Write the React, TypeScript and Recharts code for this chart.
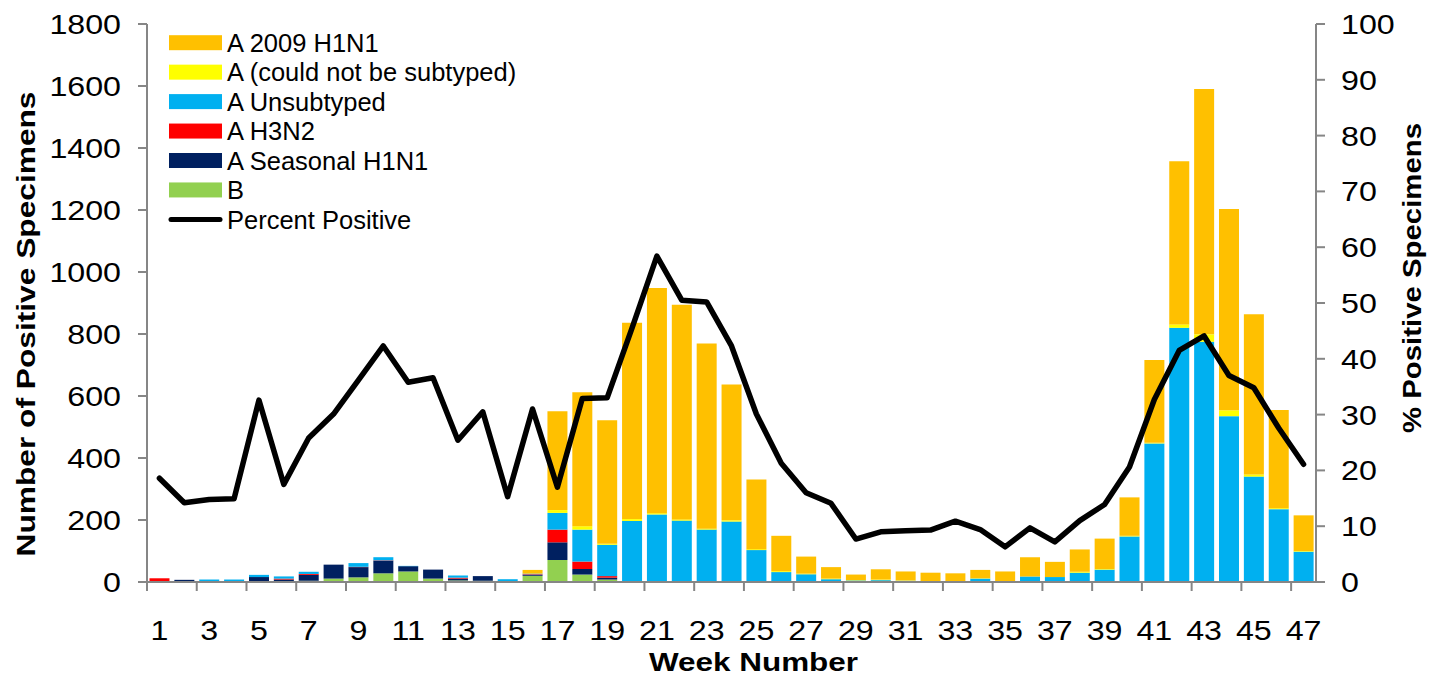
import React from 'react';
import { ComposedChart, Bar, Line, XAxis, YAxis } from 'recharts';

const WEEKS = [1,2,3,4,5,6,7,8,9,10,11,12,13,14,15,16,17,18,19,20,21,22,23,24,25,26,27,28,29,30,31,32,33,34,35,36,37,38,39,40,41,42,43,44,45,46,47];
const X_LABELS = [1,3,5,7,9,11,13,15,17,19,21,23,25,27,29,31,33,35,37,39,41,43,45,47];
const LEFT_TICKS = [0,200,400,600,800,1000,1200,1400,1600,1800];
const RIGHT_TICKS = [0,10,20,30,40,50,60,70,80,90,100];

const B_VALS = [0,0,0,0,0,0,4,11,15,28,34,11,5,4,0,20,71,24,8,0,0,0,0,0,0,0,0,0,0,0,0,0,2,0,0,0,0,0,0,0,0,0,0,0,0,0,0];
const SEASONAL = [0,7,0,2,16,8,19,45,33,41,17,29,6,15,1,3,57,18,6,0,0,0,0,0,0,0,0,0,0,0,0,0,0,0,0,0,0,0,0,0,0,0,0,0,0,0,0];
const H3N2 = [12,0,0,0,0,3,3,0,1,1,0,0,3,0,0,2,41,24,5,3,2,0,0,3,0,0,0,0,0,0,0,0,0,0,0,0,0,0,0,0,0,0,0,0,0,0,0];
const UNSUBTYPED = [0,0,8,6,7,7,7,0,12,10,1,0,7,0,8,2,54,103,101,194,216,198,169,192,103,32,25,9,5,6,4,1,0,11,0,18,16,30,40,147,447,820,775,535,340,235,98];
const NOT_SUBTYPED = [0,0,0,0,0,0,0,0,0,0,0,0,0,0,0,0,9,11,3,6,4,4,3,4,3,3,2,2,1,2,1,2,1,1,1,0,0,3,2,2,2,11,24,19,7,3,2];
const H1N1_2009 = [0,0,0,0,0,0,0,0,0,0,0,0,0,0,0,12,319,432,399,633,726,692,597,438,225,114,55,37,18,33,29,27,25,27,33,62,49,72,98,124,267,526,791,649,517,317,115];
const PCT_POS = [18.6,14.2,14.8,14.9,32.6,17.5,25.8,30.1,36.2,42.3,35.8,36.6,25.4,30.5,15.3,31.0,17.0,32.9,33.0,45.5,58.4,50.5,50.2,42.3,30.1,21.3,16.0,14.1,7.7,9.0,9.2,9.3,10.9,9.4,6.3,9.7,7.2,11.0,13.9,20.6,32.7,41.5,44.1,37.0,34.8,27.6,21.1];

const SERIES = [
  { key: 'b', name: 'B', color: '#92D050', values: B_VALS },
  { key: 'seasonal', name: 'A Seasonal H1N1', color: '#002060', values: SEASONAL },
  { key: 'h3n2', name: 'A H3N2', color: '#FF0000', values: H3N2 },
  { key: 'unsub', name: 'A Unsubtyped', color: '#00B0F0', values: UNSUBTYPED },
  { key: 'notsub', name: 'A (could not be subtyped)', color: '#FFFF00', values: NOT_SUBTYPED },
  { key: 'h1n1', name: 'A 2009 H1N1', color: '#FFC000', values: H1N1_2009 },
];

const data = WEEKS.map((w, i) => {
  const row: any = { week: w, pct: PCT_POS[i] };
  SERIES.forEach(s => { row[s.key] = s.values[i]; });
  return row;
});

const W = 1434;
const H = 681;
const LEFT_W = 147;
const RIGHT_W = 118;
const TOP = 24;
const XAXIS_H = 99;
const PLOT_LEFT = LEFT_W;
const PLOT_RIGHT = W - RIGHT_W;
const PLOT_BOTTOM = H - XAXIS_H;
const CAT_W = (PLOT_RIGHT - PLOT_LEFT) / WEEKS.length;
const AXIS_COLOR = '#868686';
const FONT = '"Liberation Sans", Arial, sans-serif';
const TICK_FS = 28;
const STRETCH = 1.15;

const XTick = (props: any) => {
  const { x, payload } = props;
  const v = payload.value;
  if (!X_LABELS.includes(v)) return <g />;
  const lx = x - CAT_W / 2;
  return (
    <g>
      <line x1={lx} x2={lx} y1={PLOT_BOTTOM} y2={PLOT_BOTTOM + 9} stroke={AXIS_COLOR} strokeWidth={2} />
      <text transform={`translate(${x},640) scale(${STRETCH},1)`} textAnchor="middle" fontSize={TICK_FS} fontFamily={FONT} fill="#000">{v}</text>
    </g>
  );
};

const LeftTick = (props: any) => {
  const { x, y, payload } = props;
  return (
    <text transform={`translate(${x},${y}) scale(${STRETCH},1)`} textAnchor="end" dy={10} fontSize={TICK_FS} fontFamily={FONT} fill="#000">{payload.value}</text>
  );
};

const RightTick = (props: any) => {
  const { x, y, payload } = props;
  return (
    <text transform={`translate(${x},${y}) scale(${STRETCH},1)`} textAnchor="start" dy={10} fontSize={TICK_FS} fontFamily={FONT} fill="#000">{payload.value}</text>
  );
};

const LEGEND_ITEMS = [...SERIES].reverse();

export default function App() {
  return (
    <div style={{ position: 'absolute', left: 0, top: 0, width: W, height: H, background: '#fff' }}>
      <ComposedChart width={W} height={H} data={data} margin={{ top: TOP, right: 0, bottom: 0, left: 0 }} barCategoryGap="10%">
        <XAxis dataKey="week" type="category" interval={0} height={XAXIS_H} tickLine={false}
          axisLine={{ stroke: AXIS_COLOR, strokeWidth: 2 }} tick={<XTick />} />
        <YAxis yAxisId="left" orientation="left" width={LEFT_W} domain={[0, 1800]} ticks={LEFT_TICKS}
          interval={0} tickSize={9} tickMargin={17} axisLine={{ stroke: AXIS_COLOR, strokeWidth: 2 }}
          tickLine={{ stroke: AXIS_COLOR, strokeWidth: 2 }} tick={<LeftTick />} />
        <YAxis yAxisId="right" orientation="right" width={RIGHT_W} domain={[0, 100]} ticks={RIGHT_TICKS}
          interval={0} tickSize={9} tickMargin={16} axisLine={{ stroke: AXIS_COLOR, strokeWidth: 2 }}
          tickLine={{ stroke: AXIS_COLOR, strokeWidth: 2 }} tick={<RightTick />} />
        {SERIES.map(s => (
          <Bar key={s.key} dataKey={s.key} name={s.name} stackId="a" yAxisId="left" fill={s.color} isAnimationActive={false} />
        ))}
        <Line dataKey="pct" name="Percent Positive" yAxisId="right" type="linear" stroke="#000" strokeWidth={5.5}
          strokeLinejoin="round" strokeLinecap="round" dot={false} activeDot={false} isAnimationActive={false} />
      </ComposedChart>
      <svg width={W} height={H} style={{ position: 'absolute', left: 0, top: 0, pointerEvents: 'none' }} fontFamily={FONT}>
        <text transform="translate(35,324) rotate(-90)" textAnchor="middle" fontWeight="bold" fontSize={25.5}
          textLength={465} lengthAdjust="spacingAndGlyphs" fill="#000">Number of Positive Specimens</text>
        <text transform="translate(1420.5,278) rotate(-90)" textAnchor="middle" fontWeight="bold" fontSize={25.5}
          textLength={310} lengthAdjust="spacingAndGlyphs" fill="#000">% Positive Specimens</text>
        <text x={753.5} y={671} textAnchor="middle" fontWeight="bold" fontSize={25.5}
          textLength={209} lengthAdjust="spacingAndGlyphs" fill="#000">Week Number</text>
        {LEGEND_ITEMS.map((s, i) => {
          const cy = 42.7 + i * 29.45;
          return (
            <g key={s.key}>
              <rect x={169} y={cy - 7.5} width={53} height={15} fill={s.color} />
              <text x={227} y={cy + 9.1} fontSize={25.5} fill="#000">{s.name}</text>
            </g>
          );
        })}
        <line x1={171} x2={220} y1={42.7 + 6 * 29.45} y2={42.7 + 6 * 29.45} stroke="#000" strokeWidth={5} strokeLinecap="round" />
        <text x={227} y={42.7 + 6 * 29.45 + 9.1} fontSize={25.5} fill="#000">Percent Positive</text>
      </svg>
    </div>
  );
}
